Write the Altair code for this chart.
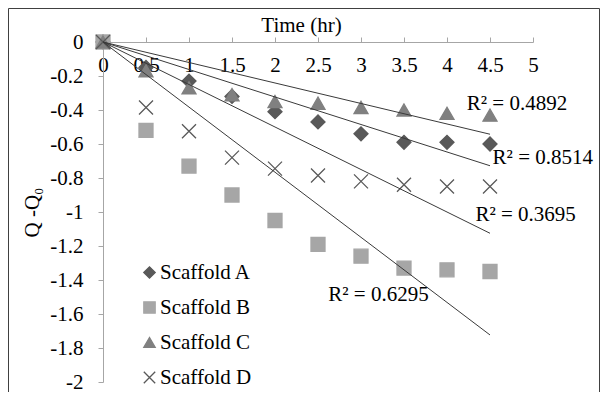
import altair as alt
import pandas as pd
import numpy as np

# ---- data ----
times = [0, 0.5, 1, 1.5, 2, 2.5, 3, 3.5, 4, 4.5]
scaffold_a = [0, -0.15, -0.23, -0.32, -0.41, -0.47, -0.54, -0.59, -0.59, -0.60]
scaffold_b = [0, -0.52, -0.73, -0.90, -1.05, -1.19, -1.26, -1.33, -1.34, -1.35]
scaffold_c = [0, -0.17, -0.27, -0.31, -0.35, -0.36, -0.385, -0.40, -0.42, -0.43]
scaffold_d = [0, -0.385, -0.525, -0.68, -0.745, -0.785, -0.82, -0.84, -0.85, -0.85]
series_names = ["Scaffold A", "Scaffold B", "Scaffold C", "Scaffold D"]
r2_texts = ["R\u00b2 = 0.8514", "R\u00b2 = 0.6295", "R\u00b2 = 0.4892", "R\u00b2 = 0.3695"]
r2_x = [4.53, 2.62, 4.23, 4.33]
r2_y = [-0.68, -1.49, -0.365, -1.02]
x_ticks = [0, 0.5, 1, 1.5, 2, 2.5, 3, 3.5, 4, 4.5, 5]
y_ticks = [0, -0.2, -0.4, -0.6, -0.8, -1, -1.2, -1.4, -1.6, -1.8, -2]

series_values = [scaffold_a, scaffold_b, scaffold_c, scaffold_d]

# points table
pts = pd.DataFrame({
    "time": times * 4,
    "q": sum(series_values, []),
    "series": [n for n in series_names for _ in times],
})

# linear trendlines through the origin (least squares), drawn from 0 to last time
tx = np.array(times)
rows = []
for name, vals in zip(series_names, series_values):
    vy = np.array(vals)
    slope = float((tx * vy).sum() / (tx * tx).sum())
    for t in (times[0], times[-1]):
        rows.append({"time": t, "q": slope * t, "series": name})
trend = pd.DataFrame(rows)

labels = pd.DataFrame({"time": r2_x, "q": r2_y, "text": r2_texts})

FONT = "Times New Roman"
FS = 21
AXIS_GRAY = "#a6a6a6"

x_scale = alt.Scale(domain=[0, 5], nice=False, zero=False)
y_scale = alt.Scale(domain=[-2, 0], nice=False, zero=False)

x_axis = alt.Axis(
    orient="top", values=x_ticks, format="~g", grid=False,
    labelFont=FONT, labelFontSize=FS, labelColor="black", labelFontWeight="normal",
    labelBaseline="middle", labelPadding=-28, labelFlush=False, labelOverlap=False,
    domainColor=AXIS_GRAY, tickColor=AXIS_GRAY, tickSize=5,
    title="Time (hr)", titleFont=FONT, titleFontSize=FS, titleFontWeight="normal",
    titleColor="black", titleX=198, titleY=-17, titleBaseline="middle", titleAlign="center",
)
y_axis = alt.Axis(
    values=y_ticks, grid=False,
    labelExpr="datum.value == 0 ? '0' : '-' + format(-datum.value, '~g')",
    labelFont=FONT, labelFontSize=FS, labelColor="black", labelFontWeight="normal",
    labelPadding=15, labelFlush=False, labelOverlap=False, labelBound=False,
    domainColor=AXIS_GRAY, tickColor=AXIS_GRAY, tickSize=5,
    title="Q -Q\u2080", titleFont=FONT, titleFontSize=FS, titleFontWeight="normal",
    titleColor="black", titleX=-71, titleY=170, titleAngle=270,
    titleBaseline="middle", titleAlign="center",
)

legend = alt.Legend(
    orient="none", legendX=36, legendY=220, title=None,
    labelFont=FONT, labelFontSize=FS, labelColor="black",
    symbolSize=130, symbolStrokeWidth=1.3, rowPadding=13, labelOffset=0, padding=0,
)
color_scale = alt.Scale(domain=series_names, range=["#595959", "#a6a6a6", "#808080", "#595959"])
shape_scale = alt.Scale(domain=series_names,
                        range=["diamond", "square", "triangle-up", "M-1,-1L1,1M-1,1L1,-1"])

points = alt.Chart(pts).mark_point(size=196, strokeWidth=1.3, opacity=1, fillOpacity=1).encode(
    x=alt.X("time:Q", scale=x_scale, axis=x_axis),
    y=alt.Y("q:Q", scale=y_scale, axis=y_axis),
    fill=alt.Fill("series:N", scale=color_scale, legend=legend, sort=series_names),
    stroke=alt.Stroke("series:N", scale=color_scale, legend=legend, sort=series_names),
    shape=alt.Shape("series:N", scale=shape_scale, legend=legend, sort=series_names),
)

lines = alt.Chart(trend).mark_line(color="#3a3a3a", strokeWidth=1).encode(
    x=alt.X("time:Q", scale=x_scale, axis=x_axis),
    y=alt.Y("q:Q", scale=y_scale, axis=y_axis),
    detail="series:N",
)

texts = alt.Chart(labels).mark_text(
    font=FONT, fontSize=FS, align="left", baseline="middle", color="black"
).encode(
    x=alt.X("time:Q", scale=x_scale, axis=x_axis),
    y=alt.Y("q:Q", scale=y_scale, axis=y_axis),
    text="text:N",
)

frame = alt.Chart(pd.DataFrame({"k": [0]})).mark_rect(
    fill="transparent", stroke="#404040", strokeWidth=1
).encode(
    x=alt.value(-94.5), x2=alt.value(496.5), y=alt.value(-33.5), y2=alt.value(400),
)

chart = alt.layer(points, lines, texts, frame).properties(
    width=430, height=340,
    autosize=alt.AutoSizeParams(type="none"),
    padding={"left": 95, "top": 34, "right": 67, "bottom": 10},
).configure(
    font=FONT,
    view=alt.ViewConfig(stroke="transparent", strokeWidth=0),
    axis=alt.AxisConfig(labelOverlap=False, labelFont=FONT, titleFont=FONT),
    legend=alt.LegendConfig(labelFont=FONT),
)

chart.save("out.html", embed_options={"renderer": "svg", "actions": False})
